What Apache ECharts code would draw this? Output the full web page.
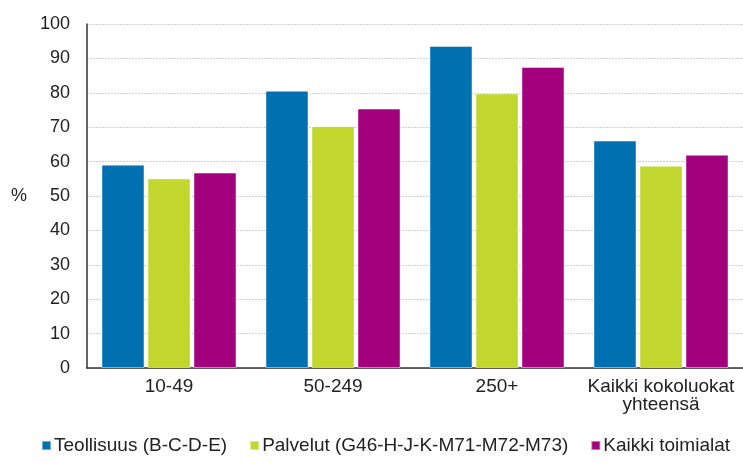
<!DOCTYPE html>
<html><head><meta charset="utf-8">
<script src="https://cdn.jsdelivr.net/npm/echarts@6/dist/echarts.min.js"></script>
<style>html,body{margin:0;padding:0;background:#fff}#c{width:743px;height:463px}</style>
</head><body><div id="c"></div>
<script>
var categories = ['10-49', '50-249', '250+', 'Kaikki kokoluokat\nyhteensä'];
var seriesNames = ['Teollisuus (B-C-D-E)', 'Palvelut (G46-H-J-K-M71-M72-M73)', 'Kaikki toimialat'];
var teollisuus = [59.1, 80.6, 93.6, 66.1];
var palvelut = [55.1, 70.3, 79.8, 58.8];
var kaikki = [56.8, 75.4, 87.5, 62.0];
var colors = ['#0070b0', '#c1d72e', '#a3007e'];
var font = 'Liberation Sans, Arial, sans-serif';

var chart = echarts.init(document.getElementById('c'));
var data = [teollisuus, palvelut, kaikki];
chart.setOption({
  animation: false,
  color: colors,
  textStyle: { fontFamily: font },
  grid: { left: 87, top: 24, width: 658, bottom: 95, containLabel: false },
  legend: {
    bottom: 3, left: 36,
    itemWidth: 9, itemHeight: 9, itemGap: 22,
    icon: 'rect',
    textStyle: { fontFamily: font, fontSize: 19, color: '#222', padding: [0,0,0,-2] },
    data: seriesNames
  },
  xAxis: {
    type: 'category', data: categories,
    axisLine: { lineStyle: { color: '#333', width: 1.5 } },
    axisTick: { show: false },
    axisLabel: { interval: 0, fontFamily: font, fontSize: 19, color: '#222', margin: 10, lineHeight: 18 }
  },
  yAxis: {
    type: 'value', min: 0, max: 100, interval: 10,
    name: '%', nameLocation: 'middle', nameGap: 60, nameRotate: 0,
    nameTextStyle: { fontFamily: font, fontSize: 18, color: '#222' },
    axisLine: { show: true, lineStyle: { color: '#333', width: 1.5 } },
    axisTick: { show: false },
    axisLabel: { fontFamily: font, fontSize: 18, color: '#222', margin: 17 },
    splitLine: { lineStyle: { color: '#cfcfcf', type: [2, 1], width: 1 } }
  },
  series: data.map(function (d, i) {
    return {
      name: seriesNames[i], type: 'bar', data: d,
      barWidth: 43, barGap: '7%',
      itemStyle: { borderColor: 'rgba(255,255,255,0.45)', borderWidth: 1 }
    };
  })
});
</script></body></html>
